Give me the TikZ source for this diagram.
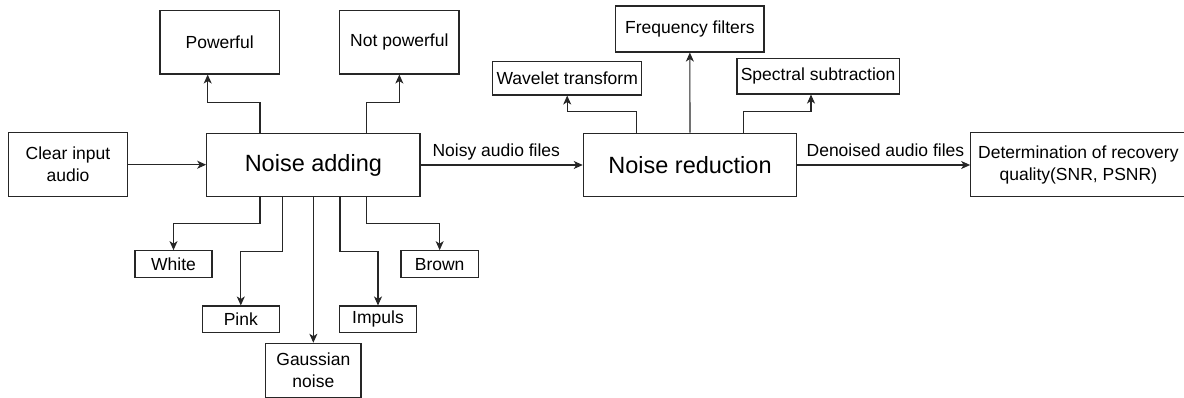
\documentclass[tikz,border=0pt]{standalone}
\usepackage{fontspec}
\setmainfont{Liberation Sans}
\usetikzlibrary{arrows.meta}
\begin{document}
\begin{tikzpicture}[x=1pt,y=1pt,
  box/.style={draw=black!85, line width=1.1pt, rectangle, inner sep=0pt, align=center,
    font=\fontsize{17.5}{22}\selectfont, text=black},
  bigbox/.style={box, font=\fontsize{23.5}{28}\selectfont},
  arr/.style={draw=black!85, line width=1.1pt, -{Stealth[length=9pt,width=8pt,inset=2.5pt]}},
  lbl/.style={font=\fontsize{17.5}{22}\selectfont, inner sep=0pt, text=black}]
\path[use as bounding box, clip] (0,0) rectangle (1184,-398);
% nodes
\node[box, minimum width=119.4, minimum height=64] (clr) at (68,-164.7) {Clear input\\audio};
\node[bigbox, minimum width=213.3, minimum height=63.4] (add) at (313.35,-165) {Noise adding};
\node[box, minimum width=119.3, minimum height=63.3] (pow) at (219.65,-42.35) {Powerful};
\node[box, minimum width=119.3, minimum height=63.3] (notp) at (399.35,-42.35) {Not powerful};
\node[box, minimum width=77, minimum height=27] (white) at (173.5,-264.2) {White};
\node[box, minimum width=77, minimum height=26.7] (pink) at (240.8,-319.35) {Pink};
\node[box, minimum width=95.3, minimum height=54] (gauss) at (313.35,-370.3) {Gaussian\\noise};
\node[box, minimum width=76.6, minimum height=26.7] (imp) at (378,-319.35) {Impuls};
\node[box, minimum width=77.3, minimum height=27] (brown) at (439.65,-264.2) {Brown};
\node[bigbox, minimum width=213.4, minimum height=63.4] (red) at (690,-165) {Noise reduction};
\node[box, minimum width=148.3, minimum height=46] (freq) at (689.85,-29) {Frequency filters};
\node[box, minimum width=149, minimum height=33.3] (wav) at (567.2,-78.35) {Wavelet transform};
\node[box, minimum width=162.3, minimum height=35.7] (spec) at (818.15,-76.15) {Spectral subtraction};
\node[box, minimum width=215.3, minimum height=64.4] (det) at (1078.35,-164.5) {Determination of recovery\\quality(SNR, PSNR)};
% connectors
\draw[arr] (clr.east) -- (clr.east -| add.west);
\draw[arr] ([xshift=-53.35]add.north) -- ++(0,30) -| ([xshift=-11.95]pow.south);
\draw[arr] ([xshift=53.35]add.north) -- ++(0,30) -| (notp.south);
\draw[arr] ([xshift=-53.35]add.south) -- ++(0,-26.6) -| (white.north);
\draw[arr] ([xshift=-30.65]add.south) -- ++(0,-54) -| (pink.north);
\draw[arr] (add.south) -- (gauss.north);
\draw[arr] ([xshift=26.65]add.south) -- ++(0,-54) -| (imp.north);
\draw[arr] ([xshift=53.35]add.south) -- ++(0,-26.6) -| (brown.north);
\draw[arr] (add.east) -- node[lbl, pos=0.467, anchor=base, yshift=8.3] {Noisy audio files} (red.west);
\draw[arr] ([xshift=-53.3]red.north) -- ++(0,21.6) -| (wav.south);
\draw[arr] (red.north) -- (freq.south);
\draw[arr] ([xshift=53.3]red.north) -- ++(0,21.6) -| ([xshift=-7.15]spec.south);
\draw[arr] (red.east) -- node[lbl, pos=0.51, anchor=base, yshift=8.3] {Denoised audio files} (red.east -| det.west);
\end{tikzpicture}
\end{document}
